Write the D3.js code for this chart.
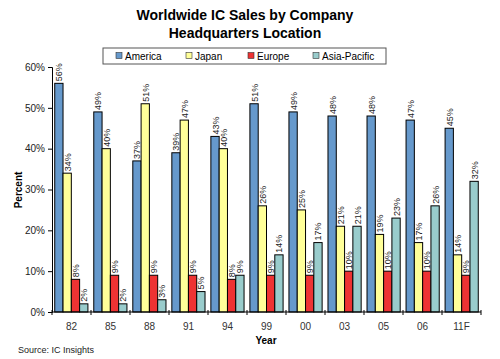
<!DOCTYPE html>
<html><head><meta charset="utf-8">
<script src="https://cdn.jsdelivr.net/npm/d3@7"></script>
<style>body{margin:0;background:#fff}svg{display:block;font-family:Arial,"Liberation Sans",sans-serif}</style>
</head><body><svg id="c" width="500" height="359"></svg>
<script>
const years = ["82","85","88","91","94","99","00","03","05","06","11F"];
const seriesNames = ["America","Japan","Europe","Asia-Pacific"];
const america = [56,49,37,39,43,51,49,48,48,47,45];
const japan = [34,40,51,47,40,26,25,21,19,17,14];
const europe = [8,9,9,9,8,9,9,10,10,10,9];
const asiaPacific = [2,2,3,5,9,14,17,21,23,26,32];
const yTicks = [0,10,20,30,40,50,60];
const colors = ["#6699cc","#ffff99","#ee3333","#99cccc"];
const series = [america, japan, europe, asiaPacific];

const svg = d3.select("#c");
const m = {l:52, r:19, t:67, b:47};
const W = 500, H = 359;
const x = d3.scaleBand().domain(years).range([m.l, W-m.r]).paddingInner(0.15).paddingOuter(0.07);
const xOuter = d3.scaleBand().domain(years).range([m.l, W-m.r]);
const x1 = d3.scaleBand().domain(seriesNames).range([0, x.bandwidth()]);
const y = d3.scaleLinear().domain([0,60]).range([H-m.b, m.t]);

// title
svg.append("text").attr("x",245).attr("y",20).attr("text-anchor","middle").attr("font-size",14).attr("font-weight","bold").text("Worldwide IC Sales by Company");
svg.append("text").attr("x",245).attr("y",38).attr("text-anchor","middle").attr("font-size",14).attr("font-weight","bold").text("Headquarters Location");

// legend
const lg = svg.append("g");
lg.append("rect").attr("x",103).attr("y",48).attr("width",283).attr("height",16).attr("fill","#fff").attr("stroke","#555").attr("stroke-width",1);
const lx = [116,186,248,313];
seriesNames.forEach((n,i)=>{
  lg.append("rect").attr("x",lx[i]).attr("y",52.5).attr("width",6).attr("height",6).attr("fill",colors[i]).attr("stroke","#333").attr("stroke-width",0.6);
  lg.append("text").attr("x",lx[i]+9).attr("y",59.5).attr("font-size",10).text(n);
});

// bars
const g = svg.append("g");
years.forEach((yr,i)=>{
  series.forEach((s,j)=>{
    const bx = x(yr)+x1(seriesNames[j]);
    g.append("rect").attr("x",bx).attr("y",y(s[i])).attr("width",x1.bandwidth()).attr("height",y(0)-y(s[i]))
      .attr("fill",colors[j]).attr("stroke","#000").attr("stroke-width",1);
    const tx = bx + x1.bandwidth()/2 + 3.5, ty = y(s[i]) - 2;
    g.append("text").attr("transform",`translate(${tx},${ty}) rotate(-90)`).attr("font-size",9).attr("fill","#222").text(s[i]+"%");
  });
});

// y axis
const ya = svg.append("g").attr("transform",`translate(${m.l},0)`)
  .call(d3.axisLeft(y).tickValues(yTicks).tickFormat(d=>d+"%").tickSize(4).tickPadding(3));
ya.selectAll("text").attr("font-size",10).attr("fill","#222").attr("font-family","Arial, 'Liberation Sans', sans-serif");
ya.select(".domain").attr("stroke","#000");

// x axis
const xa = svg.append("g").attr("transform",`translate(0,${y(0)})`);
xa.append("line").attr("x1",m.l).attr("x2",W-m.r).attr("stroke","#000");
const bounds = years.map(d=>xOuter(d)).concat([W-m.r]);
xa.selectAll("line.t").data(bounds).enter().append("line").attr("class","t")
  .attr("x1",d=>d).attr("x2",d=>d).attr("y1",-2).attr("y2",3).attr("stroke","#000");
xa.selectAll("text").data(years).enter().append("text")
  .attr("x",d=>xOuter(d)+xOuter.bandwidth()/2).attr("y",18).attr("text-anchor","middle").attr("font-size",10).attr("fill","#333").text(d=>d);

svg.append("text").attr("x",266).attr("y",344).attr("text-anchor","middle").attr("font-size",10).attr("font-weight","bold").text("Year");
svg.append("text").attr("transform","translate(22,190) rotate(-90)").attr("text-anchor","middle").attr("font-size",10).attr("font-weight","bold").text("Percent");
svg.append("text").attr("x",18).attr("y",353).attr("font-size",9).attr("fill","#222").text("Source: IC Insights");
</script></body></html>
